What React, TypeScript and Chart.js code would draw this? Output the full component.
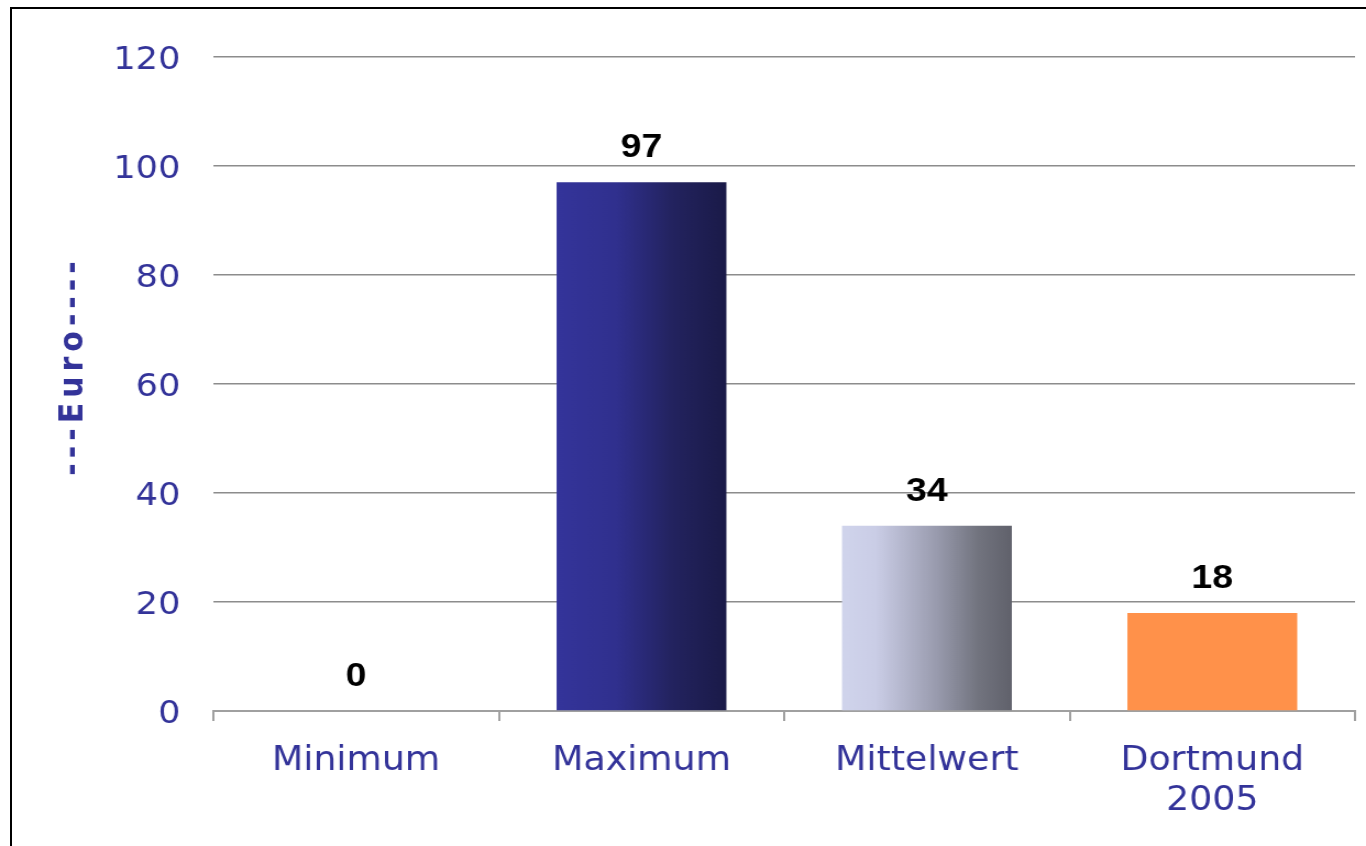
import { useEffect, useRef } from 'react';
import { Chart, registerables } from 'chart.js';

Chart.register(...registerables);

const categories: (string | string[])[] = ['Minimum', 'Maximum', 'Mittelwert', ['Dortmund', '2005']];
const values = [0, 97, 34, 18];
const yTicks = [0, 20, 40, 60, 80, 100, 120];
const axisTitle = '---Euro----';

// The original picture is stretched horizontally; the canvas is drawn narrower and scaled by CSS.
const STRETCH = 1.1;
const VIEW_W = 1366;
const VIEW_H = 846;
const CANVAS_W = Math.round(VIEW_W / STRETCH);

const BAR_PCT = 0.595;
const BLUE = '#333399';
const fills: (string | [number, string][])[] = [
  '#333399',
  [[0, '#34349a'], [0.35, '#30308e'], [0.68, '#23235f'], [1, '#1a1a48']],
  [[0, '#d0d4ec'], [0.2, '#cacde6'], [0.55, '#9a9caf'], [0.8, '#72747f'], [1, '#60616b']],
  '#ff914a',
];

const valueLabels = {
  id: 'valueLabels',
  afterDatasetsDraw(chart: any) {
    const ctx = chart.ctx;
    const meta = chart.getDatasetMeta(0);
    ctx.save();
    ctx.font = 'bold 34px "Liberation Sans", Arial, sans-serif';
    ctx.fillStyle = '#000';
    ctx.textAlign = 'center';
    ctx.textBaseline = 'alphabetic';
    meta.data.forEach((el: any, i: number) => {
      ctx.fillText(String(values[i]), el.x, el.y - 25);
    });
    ctx.restore();
  },
};

const yTitle = {
  id: 'yTitle',
  afterDraw(chart: any) {
    const ctx = chart.ctx;
    ctx.save();
    ctx.letterSpacing = '5px';
    ctx.translate(83 / STRETCH, 366);
    ctx.rotate(-Math.PI / 2);
    ctx.font = 'bold 30px "DejaVu Sans", Verdana, sans-serif';
    ctx.fillStyle = BLUE;
    ctx.textAlign = 'center';
    ctx.textBaseline = 'alphabetic';
    ctx.fillText(axisTitle, 0, 0);
    ctx.restore();
  },
};

export default function App() {
  const ref = useRef<HTMLCanvasElement | null>(null);

  useEffect(() => {
    if (!ref.current) return;
    const chart = new Chart(ref.current, {
      type: 'bar',
      data: {
        labels: categories as any,
        datasets: [
          {
            data: values,
            barPercentage: BAR_PCT,
            categoryPercentage: 1,
            borderWidth: 0,
            backgroundColor: (c: any) => {
              const ch = c.chart;
              const i = c.dataIndex;
              if (i === undefined) return BLUE;
              const f = fills[i];
              if (typeof f === 'string') return f;
              if (!ch.chartArea) return f[0][1];
              const xs = ch.scales.x;
              const center = xs.getPixelForValue(i);
              const w = (xs.width / categories.length) * BAR_PCT;
              const g = ch.ctx.createLinearGradient(center - w / 2, 0, center + w / 2, 0);
              f.forEach(([p, col]) => g.addColorStop(p, col));
              return g;
            },
          },
        ],
      },
      options: {
        animation: false,
        responsive: false,
        devicePixelRatio: 1,
        layout: { padding: { top: 57, right: CANVAS_W - Math.round(1355 / STRETCH), left: 0, bottom: 0 } },
        plugins: {
          legend: { display: false },
          tooltip: { enabled: false },
          title: { display: false },
        },
        scales: {
          x: {
            offset: true,
            afterFit: (s: any) => {
              s.height = VIEW_H - 711;
            },
            grid: {
              offset: true,
              drawOnChartArea: false,
              drawTicks: true,
              tickLength: 10,
              color: '#a0a0a0',
              lineWidth: 2,
            },
            border: { display: true, color: '#a0a0a0', width: 2 },
            ticks: {
              color: BLUE,
              padding: 20,
              maxRotation: 0,
              autoSkip: false,
              font: { family: '"DejaVu Sans", Verdana, sans-serif', size: 33, lineHeight: 1.22 },
            },
          },
          y: {
            min: yTicks[0],
            max: yTicks[yTicks.length - 1],
            afterFit: (s: any) => {
              s.width = Math.round(213 / STRETCH);
            },
            afterBuildTicks: (s: any) => {
              s.ticks = yTicks.map((v) => ({ value: v }));
            },
            grid: {
              drawTicks: false,
              color: '#8c8c8c',
              lineWidth: 1.5,
            },
            border: { display: false },
            ticks: {
              color: BLUE,
              padding: 30,
              labelOffset: 4,
              font: { family: '"DejaVu Sans", Verdana, sans-serif', size: 32 },
            },
          },
        },
      },
      plugins: [valueLabels, yTitle],
    });
    return () => chart.destroy();
  }, []);

  return (
    <div
      style={{
        position: 'fixed',
        left: 0,
        top: 0,
        width: VIEW_W,
        height: VIEW_H,
        overflow: 'hidden',
        background: '#fff',
      }}
    >
      <div
        style={{
          position: 'absolute',
          left: 10,
          top: 7,
          width: 1400,
          height: 900,
          borderLeft: '2px solid #000',
          borderTop: '2px solid #000',
        }}
      />
      <div style={{ position: 'absolute', left: 0, top: 0, width: VIEW_W, height: VIEW_H }}>
        <canvas
          ref={ref}
          width={CANVAS_W}
          height={VIEW_H}
          style={{ display: 'block', width: VIEW_W, height: VIEW_H }}
        />
      </div>
    </div>
  );
}
